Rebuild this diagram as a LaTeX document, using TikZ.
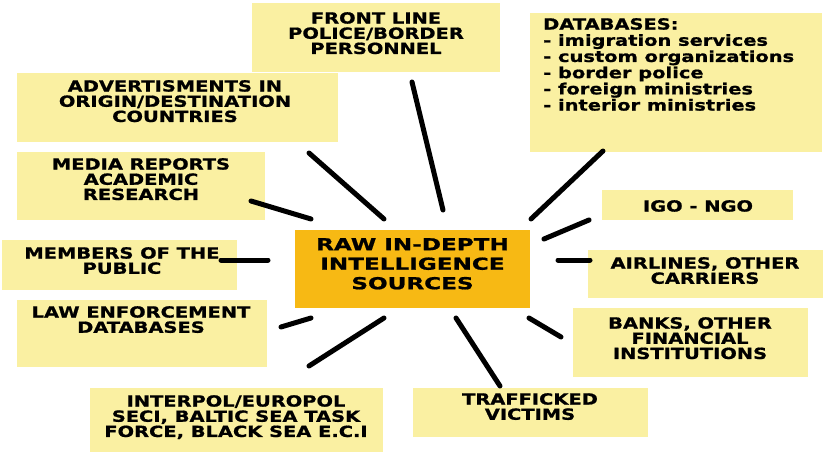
\documentclass[tikz,border=0pt]{standalone}
\usepackage{fontspec}
\newfontfamily\boxfont{DejaVu Sans}[FakeStretch=1.27,FakeBold=1]
\newfontfamily\corefont{DejaVu Sans}[FakeStretch=1.4,FakeBold=1]
\definecolor{boxyellow}{RGB}{250,240,162}
\definecolor{coreorange}{RGB}{247,185,20}
\begin{document}
\begin{tikzpicture}[x=1pt,y=-1pt,
  ybox/.style={fill=boxyellow,draw=none,anchor=north west,inner sep=0pt},
  cbox/.style={fill=coreorange,draw=none,anchor=north west,inner sep=0pt},
  txt/.style={anchor=north,inner sep=0pt,align=center,font=\boxfont\bfseries\fontsize{15.3}{15.2}\selectfont},
  link/.style={line width=5pt,line cap=round,black}]
\useasboundingbox[fill=white] (0,0) rectangle (823,452);
% boxes
\node[ybox,minimum width=248pt,minimum height=69pt] (bfront) at (252,3) {};
\node[ybox,minimum width=321pt,minimum height=69pt] (badv) at (17,73) {};
\node[ybox,minimum width=248pt,minimum height=68pt] (bmedia) at (17,152) {};
\node[ybox,minimum width=292pt,minimum height=139pt] (bdb) at (530,13) {};
\node[ybox,minimum width=191pt,minimum height=30pt] (bigo) at (602,190) {};
\node[cbox,minimum width=235pt,minimum height=78pt] (bcore) at (295,230) {};
\node[ybox,minimum width=235pt,minimum height=50pt] (bpub) at (2,240) {};
\node[ybox,minimum width=250pt,minimum height=67pt] (blaw) at (17,300) {};
\node[ybox,minimum width=293pt,minimum height=64pt] (bint) at (90,388) {};
\node[ybox,minimum width=235pt,minimum height=48pt] (bair) at (588,250) {};
\node[ybox,minimum width=235pt,minimum height=69pt] (bbank) at (573,308) {};
\node[ybox,minimum width=235pt,minimum height=49pt] (btraf) at (413,388) {};
% texts
\node[txt] (tfront) at (376,12) {FRONT LINE\\POLICE/BORDER\\PERSONNEL};
\node[txt] (tadv) at (175,80) {ADVERTISMENTS IN\\ORIGIN/DESTINATION\\COUNTRIES};
\node[txt] (tmedia) at (141,158) {MEDIA REPORTS\\ACADEMIC\\RESEARCH};
\node[txt,anchor=north west,align=left,font=\boxfont\bfseries\fontsize{15.3}{16.2}\selectfont] (tdb) at (543,18) {DATABASES:\\- imigration services\\- custom organizations\\- border police\\- foreign ministries\\- interior ministries};
\node[txt] (tigo) at (698,200) {IGO - NGO};
\node[txt,font=\corefont\bfseries\fontsize{16.5}{19.5}\selectfont] (tcore) at (412.5,238) {RAW IN-DEPTH\\INTELLIGENCE\\SOURCES};
\node[txt] (tpub) at (122,247) {MEMBERS OF THE\\PUBLIC};
\node[txt] (tlaw) at (141,306) {LAW ENFORCEMENT\\DATABASES};
\node[txt] (tint) at (236,395) {INTERPOL/EUROPOL\\SECI, BALTIC SEA TASK\\FORCE, BLACK SEA E.C.I};
\node[txt] (tair) at (705,257) {AIRLINES, OTHER\\CARRIERS};
\node[txt] (tbank) at (690,317) {BANKS, OTHER\\FINANCIAL\\INSTITUTIONS};
\node[txt] (ttraf) at (530,393) {TRAFFICKED\\VICTIMS};
% connector end points
\coordinate (f1) at (412,82);   \coordinate (f2) at (443,210);
\coordinate (a1) at (309,153);  \coordinate (a2) at (384,219);
\coordinate (m1) at (251,201);  \coordinate (m2) at (311,219);
\coordinate (d1) at (603,151);  \coordinate (d2) at (531,219);
\coordinate (i1) at (589,220);  \coordinate (i2) at (544,239);
\coordinate (p1) at (221,260);  \coordinate (p2) at (268,260);
\coordinate (l1) at (281,327);  \coordinate (l2) at (311,318);
\coordinate (e1) at (309,366);  \coordinate (e2) at (384,318);
\coordinate (r1) at (558,260);  \coordinate (r2) at (590,260);
\coordinate (k1) at (529,318);  \coordinate (k2) at (561,337);
\coordinate (v1) at (456,318);  \coordinate (v2) at (500,386);
\draw[link] (f1) -- (f2);
\draw[link] (a1) -- (a2);
\draw[link] (m1) -- (m2);
\draw[link] (d1) -- (d2);
\draw[link] (i1) -- (i2);
\draw[link] (p1) -- (p2);
\draw[link] (l1) -- (l2);
\draw[link] (e1) -- (e2);
\draw[link] (r1) -- (r2);
\draw[link] (k1) -- (k2);
\draw[link] (v1) -- (v2);
\end{tikzpicture}
\end{document}
